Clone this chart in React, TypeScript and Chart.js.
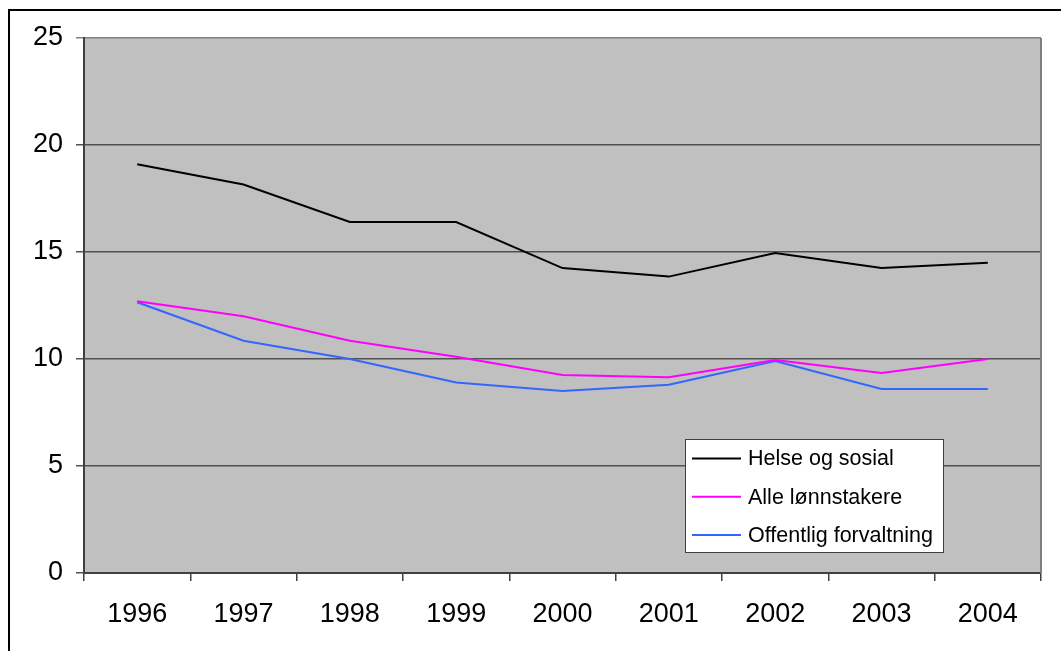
import React, { useEffect, useRef } from "react";
import { Chart, registerables } from "chart.js";

Chart.register(...registerables);

const years = ["1996", "1997", "1998", "1999", "2000", "2001", "2002", "2003", "2004"];
const helseOgSosial = [19.1, 18.15, 16.4, 16.4, 14.25, 13.85, 14.95, 14.25, 14.5];
const alleLonnstakere = [12.7, 12.0, 10.85, 10.1, 9.25, 9.15, 9.95, 9.35, 10.0];
const offentligForvaltning = [12.65, 10.85, 10.0, 8.9, 8.5, 8.8, 9.9, 8.6, 8.6];
const seriesNames = ["Helse og sosial", "Alle lønnstakere", "Offentlig forvaltning"];
const seriesColors = ["#000000", "#FF00FF", "#3366FF"];
const yTicks = [0, 5, 10, 15, 20, 25];

const FONT = "'Liberation Sans', Arial, sans-serif";

const plotDecor = {
  id: "plotDecor",
  beforeDraw(chart: any) {
    const { ctx, chartArea } = chart;
    ctx.save();
    ctx.fillStyle = "#C0C0C0";
    ctx.fillRect(chartArea.left, chartArea.top, chartArea.right - chartArea.left, chartArea.bottom - chartArea.top);
    ctx.restore();
  },
  afterDraw(chart: any) {
    const { ctx, chartArea } = chart;
    ctx.save();
    // right border
    ctx.strokeStyle = "#808080";
    ctx.lineWidth = 2;
    ctx.beginPath();
    ctx.moveTo(chartArea.right, chartArea.top);
    ctx.lineTo(chartArea.right, chartArea.bottom);
    ctx.stroke();

    // legend
    const bx = chartArea.left + 601;
    const by = chartArea.top + 401;
    const bw = 258;
    const bh = 113;
    ctx.fillStyle = "#FFFFFF";
    ctx.fillRect(bx, by, bw, bh);
    ctx.strokeStyle = "#404040";
    ctx.lineWidth = 1;
    ctx.strokeRect(bx + 0.5, by + 0.5, bw, bh);
    ctx.font = `21.5px ${FONT}`;
    ctx.textBaseline = "middle";
    ctx.textAlign = "left";
    chart.data.datasets.forEach((ds: any, i: number) => {
      const cy = by + 19.5 + i * 38.3;
      ctx.strokeStyle = ds.borderColor;
      ctx.lineWidth = 2;
      ctx.beginPath();
      ctx.moveTo(bx + 7, cy);
      ctx.lineTo(bx + 56, cy);
      ctx.stroke();
      ctx.fillStyle = "#000000";
      ctx.fillText(ds.label, bx + 63, cy + 1);
    });
    ctx.restore();
  },
};

export default function App() {
  const canvasRef = useRef<HTMLCanvasElement | null>(null);

  useEffect(() => {
    if (!canvasRef.current) return;
    const seriesData = [helseOgSosial, alleLonnstakere, offentligForvaltning];
    const chart = new Chart(canvasRef.current, {
      type: "line",
      data: {
        labels: years,
        datasets: seriesData.map((d, i) => ({
          label: seriesNames[i],
          data: d,
          borderColor: seriesColors[i],
          backgroundColor: seriesColors[i],
          borderWidth: 2,
          pointRadius: 0,
          tension: 0,
          fill: false,
        })),
      },
      options: {
        animation: false,
        responsive: false,
        maintainAspectRatio: false,
        layout: { padding: { left: 0, top: 38, right: 20, bottom: 0 } },
        plugins: {
          legend: { display: false },
          tooltip: { enabled: false },
        },
        scales: {
          x: {
            type: "category",
            offset: true,
            grid: {
              offset: true,
              drawOnChartArea: false,
              drawTicks: true,
              tickLength: 8,
              color: "#404040",
              lineWidth: 1.5,
            },
            border: { display: true, color: "#404040", width: 2 },
            ticks: {
              color: "#000000",
              font: { family: FONT, size: 27 },
              padding: 17,
              maxRotation: 0,
              autoSkip: false,
            },
            afterFit(scale: any) {
              scale.height = 78;
            },
          },
          y: {
            min: 0,
            max: 25,
            afterBuildTicks(scale: any) {
              scale.ticks = yTicks.map((v) => ({ value: v }));
            },
            grid: {
              drawTicks: true,
              tickLength: 8,
              color: (c: any) => (c.tick && c.tick.value === 25 ? "#808080" : "#505050"),
              lineWidth: 1.5,
            },
            border: { display: true, color: "#404040", width: 2 },
            ticks: {
              color: "#000000",
              font: { family: FONT, size: 27 },
              padding: 13,
            },
            afterFit(scale: any) {
              scale.width = 84;
            },
          },
        },
      },
      plugins: [plotDecor],
    });
    return () => chart.destroy();
  }, []);

  return (
    <div>
      <div
        style={{
          position: "fixed",
          left: 8,
          top: 9,
          width: 1200,
          height: 800,
          border: "2px solid #000",
          boxSizing: "border-box",
          pointerEvents: "none",
        }}
      />
      <canvas
        ref={canvasRef}
        width={1061}
        height={651}
        style={{ position: "fixed", left: 0, top: 0, width: 1061, height: 651 }}
      />
    </div>
  );
}
